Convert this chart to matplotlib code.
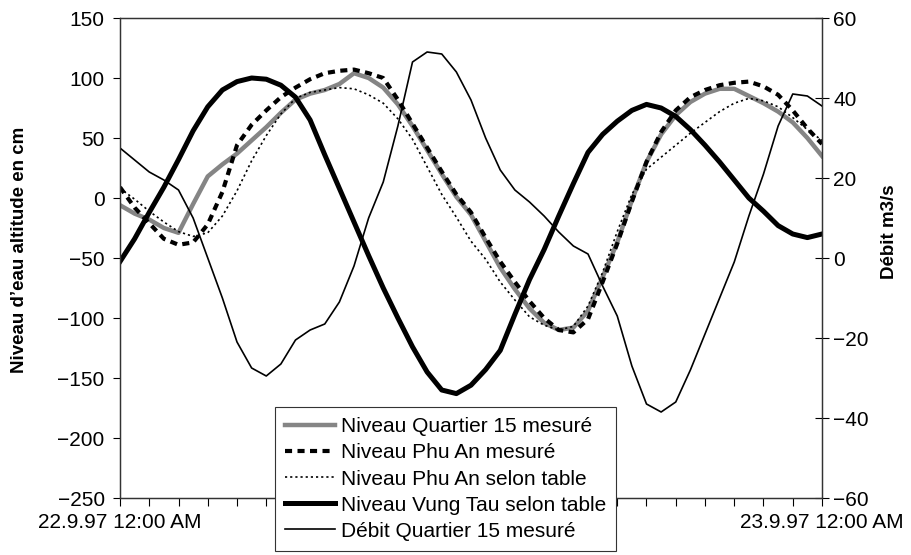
"""
Niveaux d'eau et debit au Quartier 15 / Phu An / Vung Tau, 22.9.97 - 23.9.97
"""
import numpy as np
import matplotlib
matplotlib.use("Agg")
import matplotlib.pyplot as plt
from matplotlib.ticker import MultipleLocator, FixedLocator

plt.rcParams["font.family"] = ["Liberation Sans", "DejaVu Sans"]

# temps en heures depuis 22.9.97 00:00 (pas d'une demi-heure)
heures = np.arange(0, 24.5, 0.5)

niveau_quartier15 = [
    -6, -13, -18, -25, -29, -5, 18, 28, 37, 48, 59, 71, 82, 87, 90, 95,
    104, 100, 92, 78, 60, 40, 20, 1, -14, -36, -58, -76, -92, -104, -110,
    -108, -94, -66, -37, -2, 30, 53, 69, 80, 87, 91, 91, 85, 79, 72, 63,
    50, 35,
]
niveau_phu_an = [
    9, -8, -21, -34, -39, -37, -22, 5, 44, 61, 73, 84, 92, 99, 104, 106,
    107, 104, 100, 82, 62, 42, 22, 3, -12, -33, -53, -70, -86, -100, -110,
    -112, -101, -70, -38, -3, 30, 55, 73, 84, 90, 94, 96, 97, 93, 86, 73,
    58, 45,
]
niveau_phu_an_table = [
    8, -1, -11, -20, -28, -32, -29, -15, 6, 31, 52, 70, 83, 88, 90, 92,
    91, 86, 79, 66, 49, 26, 3, -16, -36, -51, -70, -85, -99, -106, -110,
    -107, -90, -62, -28, 3, 24, 34, 44, 54, 63, 72, 79, 83, 81, 76, 67,
    57, 48,
]
niveau_vung_tau = [
    -53, -34, -12, 9, 32, 56, 76, 90, 97, 100, 99, 94, 84, 65, 36, 8,
    -20, -48, -75, -100, -124, -145, -160, -163, -156, -143, -127, -97,
    -68, -43, -15, 12, 38, 53, 64, 73, 78, 75, 68, 57, 44, 30, 15, 0,
    -11, -23, -30, -33, -30,
]
debit_quartier15 = [
    27.5, 24.5, 21.5, 19.5, 17, 10, 0, -10, -21, -27.5, -29.5, -26.5,
    -20.5, -18, -16.5, -11, -2, 10, 19, 33, 49, 51.5, 51, 46.5, 39.5, 30,
    22, 17, 14, 10.5, 6.5, 3, 1, -7, -14.5, -27, -36.5, -38.5, -36, -28,
    -19, -10, -1, 10.5, 21, 33, 41, 40.5, 38,
]

etiquettes_x = ["22.9.97 12:00 AM", "23.9.97 12:00 AM"]


def tracer():
    fig = plt.figure(figsize=(9.11, 5.55), dpi=100)
    ax1 = fig.add_axes([120 / 911, 1 - 498 / 555, 702 / 911, 480 / 555])
    ax2 = ax1.twinx()

    l1, = ax1.plot(heures, niveau_quartier15, color="#858585", lw=3.2,
                   solid_joinstyle="round", label="Niveau Quartier 15 mesuré")
    l2, = ax1.plot(heures, niveau_phu_an, color="black", lw=3,
                   linestyle=(0, (1.7, 1.3)), label="Niveau Phu An mesuré")
    l3, = ax1.plot(heures, niveau_phu_an_table, color="black", lw=1.2,
                   linestyle=(0, (1.3, 1.8)), label="Niveau Phu An selon table")
    l4, = ax1.plot(heures, niveau_vung_tau, color="black", lw=3.6,
                   solid_joinstyle="round", label="Niveau Vung Tau selon table")
    l5, = ax2.plot(heures, debit_quartier15, color="black", lw=1.2,
                   solid_joinstyle="round", label="Débit Quartier 15 mesuré")

    ax1.set_xlim(0, 24)
    ax1.set_ylim(-250, 150)
    ax2.set_ylim(-60, 60)

    ax1.xaxis.set_major_locator(FixedLocator([0, 24]))
    ax1.set_xticklabels(etiquettes_x)
    ax1.xaxis.set_minor_locator(MultipleLocator(1))
    ax1.yaxis.set_major_locator(MultipleLocator(50))
    ax2.yaxis.set_major_locator(MultipleLocator(20))

    ax1.tick_params(axis="x", which="both", direction="out", length=6,
                    width=0.8, labelsize=15, pad=5)
    ax1.tick_params(axis="y", direction="out", length=5, width=0.8,
                    labelsize=15, pad=6)
    ax2.tick_params(axis="y", direction="inout", length=10, width=0.8,
                    labelsize=15, pad=3)

    for ax in (ax1, ax2):
        for sp in ax.spines.values():
            sp.set_linewidth(0.9)
            sp.set_color("#333333")

    fig.text(20 / 911, 1 - 250 / 555, "Niveau d’eau altitude en cm",
             rotation=90, ha="center", va="center", fontsize=13.5,
             fontweight="bold")
    fig.text(890 / 911, 1 - 232 / 555, "Débit m3/s", rotation=90,
             ha="center", va="center", fontsize=13.5, fontweight="bold")

    leg = fig.legend(handles=[l1, l2, l3, l4, l5], loc="upper left",
                     bbox_to_anchor=(275 / 911, 1 - 407 / 555),
                     fontsize=15, frameon=True, fancybox=False,
                     edgecolor="#333333", framealpha=1, borderpad=0.5,
                     labelspacing=0.34, handlelength=2.4,
                     handletextpad=0.25, borderaxespad=0)
    leg.get_frame().set_linewidth(0.8)

    fig.savefig("out.png", dpi=100)


if __name__ == "__main__":
    tracer()
